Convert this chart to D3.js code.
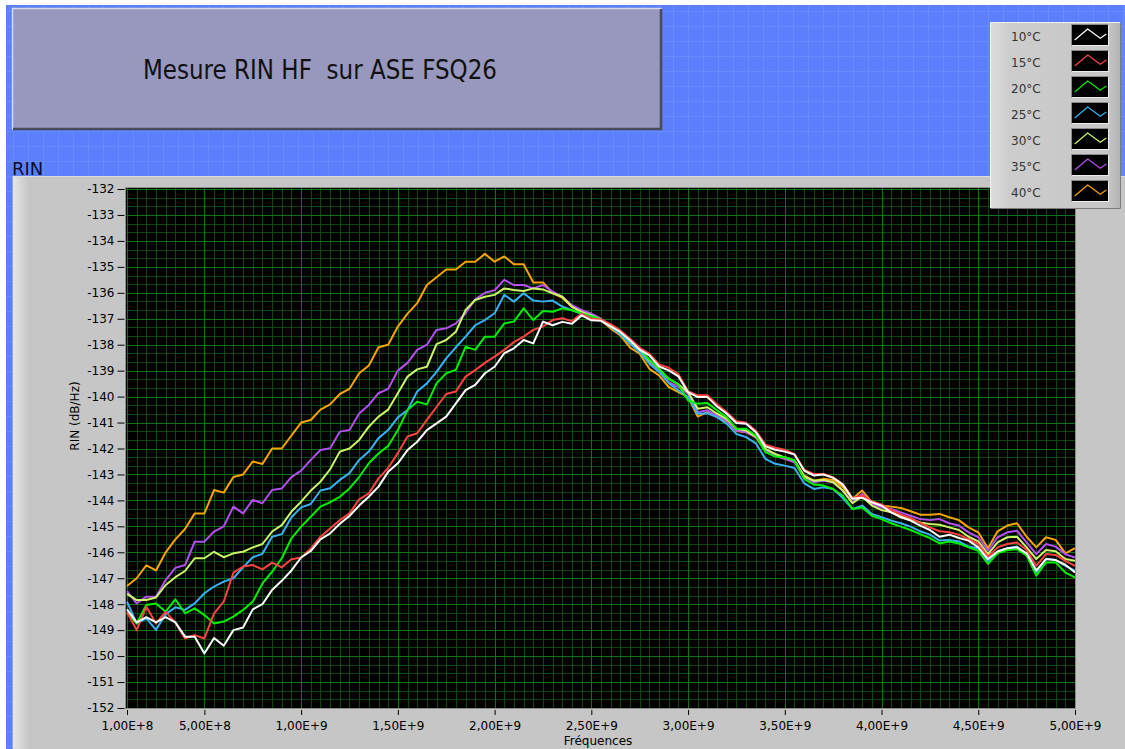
<!DOCTYPE html>
<html><head><meta charset="utf-8">
<script src="https://cdn.jsdelivr.net/npm/d3@7"></script>
<style>
html,body{margin:0;padding:0;background:#fff;}
svg{display:block;}
text{font-family:"DejaVu Sans",Verdana,sans-serif;}
</style></head><body>
<svg id="chart" width="1125" height="749"></svg>
<script>
// ---------------- DATA ----------------
const freqGHz = [0.10,0.15,0.20,0.25,0.30,0.35,0.40,0.45,0.50,0.55,0.60,0.65,0.70,0.75,0.80,0.85,0.90,0.95,1.00,1.05,1.10,1.15,1.20,1.25,1.30,1.35,1.40,1.45,1.50,1.55,1.60,1.65,1.70,1.75,1.80,1.85,1.90,1.95,2.00,2.05,2.10,2.15,2.20,2.25,2.30,2.35,2.40,2.45,2.50,2.55,2.60,2.65,2.70,2.75,2.80,2.85,2.90,2.95,3.00,3.05,3.10,3.15,3.20,3.25,3.30,3.35,3.40,3.45,3.50,3.55,3.60,3.65,3.70,3.75,3.80,3.85,3.90,3.95,4.00,4.05,4.10,4.15,4.20,4.25,4.30,4.35,4.40,4.45,4.50,4.55,4.60,4.65,4.70,4.75,4.80,4.85,4.90,4.95,5.00];

const rin10 = [-148.2,-148.7,-148.5,-148.7,-148.5,-148.7,-149.25,-149.25,-149.9,-149.3,-149.6,-149.0,-148.9,-148.2,-148.0,-147.45,-147.1,-146.7,-146.2,-145.95,-145.5,-145.27,-144.9,-144.6,-144.2,-143.86,-143.47,-142.9,-142.57,-142.06,-141.74,-141.29,-141.03,-140.77,-140.26,-139.75,-139.55,-139.1,-138.85,-138.33,-138.14,-137.82,-137.95,-137.11,-137.25,-137.12,
 -137.19,-136.87,-137.06,-137.08,-137.29,-137.51,-137.83,-138.19,-138.41,-138.84,-138.99,-139.22,-139.83,-140.02,-140.02,-140.38,-140.66,-141.02,-141.05,-141.37,-141.92,-142.05,-142.12,-142.23,-142.85,-143.04,-143.0,-143.13,-143.39,-143.94,-143.9,-144.07,-144.2,-144.46,-144.65,-144.78,-144.97,-145.14,-145.4,-145.32,-145.45,-145.55,-145.81,-146.26,-145.97,-145.84,-145.81,-146.04,-146.7,-146.26,-146.3,-146.48,-146.78];

const rin15 = [-148.3,-149.0,-148.1,-148.74,-148.29,-148.71,-149.32,-149.19,-149.32,-148.35,-147.9,-146.78,-146.55,-146.49,-146.66,-146.4,-146.58,-146.27,-146.2,-145.85,-145.4,-145.08,-144.76,-144.5,-143.96,-143.73,-143.15,-142.75,-142.17,-141.54,-141.41,-140.9,-140.4,-139.9,-139.8,-139.23,-138.98,-138.7,-138.46,-138.2,-137.9,-137.69,-137.43,-137.3,-137.05,-136.98,
 -137.09,-136.8,-137.0,-137.03,-137.21,-137.45,-137.77,-138.11,-138.35,-138.76,-138.89,-139.14,-139.79,-139.95,-139.95,-140.3,-140.6,-140.95,-141.01,-141.31,-141.85,-141.97,-142.05,-142.21,-142.82,-142.98,-142.98,-143.11,-143.37,-143.91,-143.82,-144.03,-144.16,-144.37,-144.55,-144.68,-144.87,-145.04,-145.19,-145.23,-145.32,-145.49,-145.68,-146.17,-145.81,-145.68,-145.62,-145.91,-146.52,-146.07,-146.1,-146.33,-146.52];

const rin20 = [-148.35,-148.74,-148.03,-147.97,-148.29,-147.81,-148.35,-148.16,-148.42,-148.74,-148.67,-148.48,-148.22,-147.9,-147.2,-146.75,-146.23,-145.46,-145.01,-144.63,-144.24,-144.07,-143.86,-143.54,-143.1,-142.57,-142.19,-141.9,-141.29,-140.52,-140.2,-140.3,-139.49,-139.1,-138.97,-138.08,-138.2,-137.69,-137.69,-137.18,-137.11,-136.6,-137.05,-136.7,-136.73,-136.6,
 -136.67,-136.8,-136.9,-137.03,-137.25,-137.51,-137.86,-138.15,-138.58,-138.93,-139.31,-139.53,-140.15,-140.28,-140.25,-140.53,-140.79,-141.24,-141.24,-141.5,-142.14,-142.31,-142.34,-142.46,-143.17,-143.39,-143.43,-143.56,-143.82,-144.33,-144.27,-144.59,-144.72,-144.88,-145.01,-145.14,-145.3,-145.45,-145.66,-145.58,-145.66,-145.81,-145.94,-146.45,-146.04,-145.91,-145.88,-146.13,-146.9,-146.39,-146.39,-146.78,-146.97];

const rin25 = [-147.9,-148.74,-148.55,-148.99,-148.38,-148.12,-148.22,-147.97,-147.58,-147.32,-147.13,-147.0,-146.58,-146.19,-146.06,-145.4,-145.3,-144.65,-144.27,-144.14,-143.62,-143.53,-143.21,-142.95,-142.44,-142.12,-141.6,-141.29,-140.8,-140.52,-139.8,-139.49,-139.05,-138.53,-138.1,-137.69,-137.25,-137.05,-136.79,-136.08,-136.34,-136.02,-136.3,-136.34,-136.3,-136.53,
 -136.67,-136.8,-136.9,-137.06,-137.32,-137.6,-137.96,-138.28,-138.73,-139.05,-139.48,-139.76,-140.02,-140.66,-140.64,-140.79,-141.05,-141.44,-141.56,-141.8,-142.4,-142.59,-142.66,-142.75,-143.34,-143.56,-143.49,-143.56,-143.91,-144.33,-144.2,-144.52,-144.65,-144.78,-144.88,-145.01,-145.19,-145.32,-145.55,-145.53,-145.58,-145.78,-145.84,-146.35,-145.97,-145.84,-145.78,-146.07,-146.78,-146.26,-146.3,-146.52,-146.71];

const rin30 = [-147.6,-147.84,-147.84,-147.74,-147.26,-146.96,-146.72,-146.23,-146.23,-145.98,-146.19,-146.04,-145.98,-145.81,-145.68,-145.2,-144.95,-144.43,-144.05,-143.62,-143.28,-142.8,-142.12,-142.0,-141.67,-141.16,-140.77,-140.5,-139.87,-139.23,-138.95,-138.85,-137.98,-137.82,-137.5,-136.66,-136.28,-136.15,-136.08,-135.83,-135.89,-135.93,-135.83,-135.87,-136.02,-136.15,
 -136.54,-136.74,-136.87,-137.03,-137.29,-137.55,-137.9,-138.19,-138.6,-138.93,-139.31,-139.53,-139.83,-140.47,-140.41,-140.66,-140.86,-141.24,-141.31,-141.54,-142.01,-142.21,-142.34,-142.46,-143.08,-143.24,-143.21,-143.3,-143.62,-144.11,-143.85,-144.2,-144.37,-144.46,-144.59,-144.72,-144.85,-144.91,-144.94,-145.04,-145.14,-145.4,-145.58,-146.07,-145.62,-145.42,-145.4,-145.81,-146.26,-145.91,-145.96,-146.26,-146.33];

const rin35 = [-147.5,-147.97,-147.71,-147.71,-147.07,-146.6,-146.49,-145.59,-145.59,-145.2,-145.0,-144.24,-144.5,-143.98,-144.11,-143.6,-143.54,-143.1,-142.85,-142.44,-142.06,-141.99,-141.35,-141.29,-140.65,-140.32,-139.87,-139.7,-139.0,-138.7,-138.2,-138.0,-137.43,-137.37,-137.18,-136.79,-136.25,-136.0,-135.9,-135.5,-135.7,-135.7,-135.83,-135.7,-135.96,-136.15,
 -136.48,-136.67,-136.8,-137.0,-137.25,-137.57,-137.96,-138.22,-138.67,-138.99,-139.44,-139.63,-139.89,-140.6,-140.53,-140.73,-140.92,-141.31,-141.37,-141.56,-142.08,-142.27,-142.4,-142.53,-143.11,-143.3,-143.24,-143.3,-143.62,-144.07,-143.75,-144.14,-144.27,-144.33,-144.46,-144.59,-144.72,-144.76,-144.72,-144.88,-144.97,-145.23,-145.42,-145.94,-145.42,-145.23,-145.17,-145.62,-146.07,-145.68,-145.78,-146.07,-146.2];

const rin40 = [-147.3,-147.0,-146.5,-146.7,-146.0,-145.5,-145.1,-144.5,-144.5,-143.6,-143.7,-143.1,-143.0,-142.5,-142.6,-142.0,-142.0,-141.5,-141.0,-140.9,-140.5,-140.3,-139.9,-139.7,-139.1,-138.8,-138.1,-138.0,-137.3,-136.8,-136.4,-135.7,-135.4,-135.1,-135.1,-134.8,-134.8,-134.5,-134.8,-134.6,-134.9,-134.9,-135.6,-135.6,-136.0,-136.2,
 -136.54,-136.67,-136.87,-137.06,-137.38,-137.64,-138.11,-138.35,-138.93,-139.18,-139.63,-139.83,-140.02,-140.77,-140.6,-140.79,-140.95,-141.33,-141.37,-141.56,-142.1,-142.27,-142.4,-142.46,-143.04,-143.24,-143.17,-143.21,-143.49,-143.94,-143.62,-144.07,-144.2,-144.24,-144.29,-144.42,-144.55,-144.55,-144.52,-144.65,-144.76,-145.04,-145.23,-145.84,-145.19,-144.97,-144.88,-145.4,-145.81,-145.42,-145.52,-146.04,-145.84];

const seriesNames = ["10°C","15°C","20°C","25°C","30°C","35°C","40°C"];
const seriesValues = [rin10, rin15, rin20, rin25, rin30, rin35, rin40];
const seriesColors = ["#ffffff","#ff4242","#00f000","#3ab0f5","#cdf56a","#b44ff0","#f8a400"];

const xTickValues = [0.1,0.5,1.0,1.5,2.0,2.5,3.0,3.5,4.0,4.5,5.0];
const xTickLabels = ["1,00E+8","5,00E+8","1,00E+9","1,50E+9","2,00E+9","2,50E+9","3,00E+9","3,50E+9","4,00E+9","4,50E+9","5,00E+9"];
const yTickValues = [-132,-133,-134,-135,-136,-137,-138,-139,-140,-141,-142,-143,-144,-145,-146,-147,-148,-149,-150,-151,-152];
const yTickLabels = ["-132","-133","-134","-135","-136","-137","-138","-139","-140","-141","-142","-143","-144","-145","-146","-147","-148","-149","-150","-151","-152"];

const titleText = "Mesure RIN HF\u00a0 sur ASE FSQ26";
const yAxisTitle = "RIN (dB/Hz)";
const xAxisTitle = "Fréquences";
const graphLabel = "RIN";

// ---------------- LAYOUT ----------------
const W = 1125, H = 749;
const PL = 126, PR = 1075, PT = 188, PB = 708;
const svg = d3.select("#chart");
const defs = svg.append("defs");

svg.append("rect").attr("width",W).attr("height",H).attr("fill","#ffffff");
svg.append("rect").attr("x",6).attr("y",5).attr("width",W-6).attr("height",H-5).attr("fill","#5b7ffd");
const pg = svg.append("g").attr("stroke","#6a8aff").attr("stroke-width",1);
for (let gx = 13.5; gx < W; gx += 15) pg.append("line").attr("x1",gx).attr("x2",gx).attr("y1",5).attr("y2",H);
for (let gy = 11.5; gy < H; gy += 15) pg.append("line").attr("x1",6).attr("x2",W).attr("y1",gy).attr("y2",gy);

// title panel
svg.append("rect").attr("x",12).attr("y",8).attr("width",650).attr("height",122).attr("fill","#9898bf");
svg.append("path").attr("d","M12.5,129.5 V8.5 H661.5").attr("fill","none").attr("stroke","#d6d6ec").attr("stroke-width",1.5);
svg.append("path").attr("d","M13,129 H661 V9").attr("fill","none").attr("stroke","#4a4a58").attr("stroke-width",2.5);
svg.append("text").attr("x",143).attr("y",79).attr("font-family","'Liberation Sans',Arial,sans-serif")
  .attr("font-size",26).attr("fill","#111").attr("textLength",354).attr("lengthAdjust","spacingAndGlyphs")
  .attr("xml:space","preserve").text(titleText);

// graph label
svg.append("text").attr("x",12).attr("y",175).attr("font-size",18).attr("fill","#0c0c2a").text(graphLabel);

// graph frame
const fg = defs.append("linearGradient").attr("id","leftStrip").attr("x1",0).attr("x2",1).attr("y1",0).attr("y2",0);
fg.append("stop").attr("offset","0%").attr("stop-color","#e6e6e6");
fg.append("stop").attr("offset","100%").attr("stop-color","#c8c8c8");
svg.append("rect").attr("x",12.5).attr("y",176).attr("width",W-12.5).attr("height",H-176).attr("fill","#c6c6c6");
svg.append("rect").attr("x",13).attr("y",176).attr("width",15).attr("height",H-176).attr("fill","url(#leftStrip)");
svg.append("line").attr("x1",13).attr("x2",W).attr("y1",176.5).attr("y2",176.5).attr("stroke","#dedede");

// scales
const x = d3.scaleLinear().domain([0.1,5.0]).range([127,1075]);
const y = d3.scaleLinear().domain([-152,-132]).range([708,189]);

// plot area
svg.append("rect").attr("x",PL).attr("y",PT).attr("width",PR-PL).attr("height",PB-PT).attr("fill","#000");
defs.append("clipPath").attr("id","plotClip").append("rect").attr("x",PL).attr("y",PT).attr("width",PR-PL).attr("height",PB-PT);
const grid = svg.append("g").attr("clip-path","url(#plotClip)");
// minor grid
d3.range(0.1,5.0001,0.05).forEach(v => grid.append("line").attr("x1",Math.round(x(v))+0.5).attr("x2",Math.round(x(v))+0.5).attr("y1",PT).attr("y2",PB).attr("stroke","#0a470a"));
d3.range(-152,-131.99,1/3).forEach(v => grid.append("line").attr("y1",Math.round(y(v))+0.5).attr("y2",Math.round(y(v))+0.5).attr("x1",PL).attr("x2",PR).attr("stroke","#0a470a"));
// major grid
xTickValues.forEach(v => grid.append("line").attr("x1",Math.round(x(v))+0.5).attr("x2",Math.round(x(v))+0.5).attr("y1",PT).attr("y2",PB).attr("stroke","#0f740f"));
yTickValues.forEach(v => grid.append("line").attr("y1",Math.round(y(v))+0.5).attr("y2",Math.round(y(v))+0.5).attr("x1",PL).attr("x2",PR).attr("stroke","#0f740f"));

// traces (40°C drawn first, 10°C last)
const line = d3.line().x(d => x(d[0])).y(d => y(d[1]));
const traces = svg.append("g").attr("clip-path","url(#plotClip)");
for (let s = seriesValues.length - 1; s >= 0; s--) {
  const vals = seriesValues[s];
  const pts = freqGHz.map((f,i) => [f, vals[i]]).filter(d => d[1] !== undefined);
  traces.append("path").datum(pts).attr("d",line).attr("fill","none")
    .attr("stroke",seriesColors[s]).attr("stroke-width",2).attr("stroke-linejoin","round");
}

// plot border
svg.append("rect").attr("x",PL-0.5).attr("y",PT-0.5).attr("width",PR-PL+1).attr("height",PB-PT+1)
  .attr("fill","none").attr("stroke","#8c8c8c").attr("stroke-width",1);

// axes
const yAxis = d3.axisLeft(y).tickValues(yTickValues).tickFormat((d,i) => yTickLabels[i]).tickSize(7).tickPadding(3);
const ya = svg.append("g").attr("transform","translate(124.5,0)").call(yAxis);
ya.select(".domain").remove();
ya.selectAll("line").attr("stroke","#000");
ya.selectAll("text").attr("font-size",12).attr("font-family","'DejaVu Sans',sans-serif").attr("fill","#000");

const xAxis = d3.axisBottom(x).tickValues(xTickValues).tickFormat((d,i) => xTickLabels[i]).tickSize(5).tickPadding(6);
const xa = svg.append("g").attr("transform","translate(0,710)").call(xAxis);
xa.select(".domain").remove();
xa.selectAll("line").attr("stroke","#000");
xa.selectAll("text").attr("font-size",12).attr("font-family","'DejaVu Sans',sans-serif").attr("fill","#000");

svg.append("text").attr("transform","translate(79,416) rotate(-90)").attr("text-anchor","middle")
  .attr("font-size",12).attr("fill","#000").text(yAxisTitle);
svg.append("text").attr("x",598).attr("y",745).attr("text-anchor","middle").attr("font-size",12).attr("fill","#000").text(xAxisTitle);

// legend
const lg = defs.append("linearGradient").attr("id","legBg").attr("x1",0).attr("x2",1).attr("y1",0).attr("y2",0);
lg.append("stop").attr("offset","0%").attr("stop-color","#dcdcdc");
lg.append("stop").attr("offset","14%").attr("stop-color","#cdcdcd");
lg.append("stop").attr("offset","90%").attr("stop-color","#c6c6c6");
lg.append("stop").attr("offset","100%").attr("stop-color","#b4b4b4");
const leg = svg.append("g");
leg.append("rect").attr("x",990.5).attr("y",22.5).attr("width",130).attr("height",186).attr("fill","url(#legBg)");
leg.append("path").attr("d","M990.5,208 V22.5 H1120").attr("fill","none").attr("stroke","#f2f2f2");
leg.append("path").attr("d","M991,208.5 H1120.5 V23").attr("fill","none").attr("stroke","#7c7c7c");
seriesNames.forEach((name,k) => {
  const ty = 25 + 26*k;
  leg.append("text").attr("x",1011).attr("y",ty+16).attr("font-size",12).attr("fill","#333").text(name);
  leg.append("rect").attr("x",1072).attr("y",ty).attr("width",36).attr("height",20).attr("fill","#000");
  leg.append("path").attr("d",`M1071.5,${ty+20.5} V${ty-0.5} H1108.5`).attr("fill","none").attr("stroke","#8a8a8a");
  leg.append("path").attr("d",`M1072,${ty+20.5} H1108.5 V${ty}`).attr("fill","none").attr("stroke","#ececec");
  const pts = [[1074.7,ty+15],[1087.7,ty+4],[1100.3,ty+13.3],[1106.3,ty+9]];
  leg.append("polyline").attr("points",pts.map(p=>p.join(",")).join(" ")).attr("fill","none")
    .attr("stroke",seriesColors[k]).attr("stroke-width",1.2);
});
</script>
</body></html>
